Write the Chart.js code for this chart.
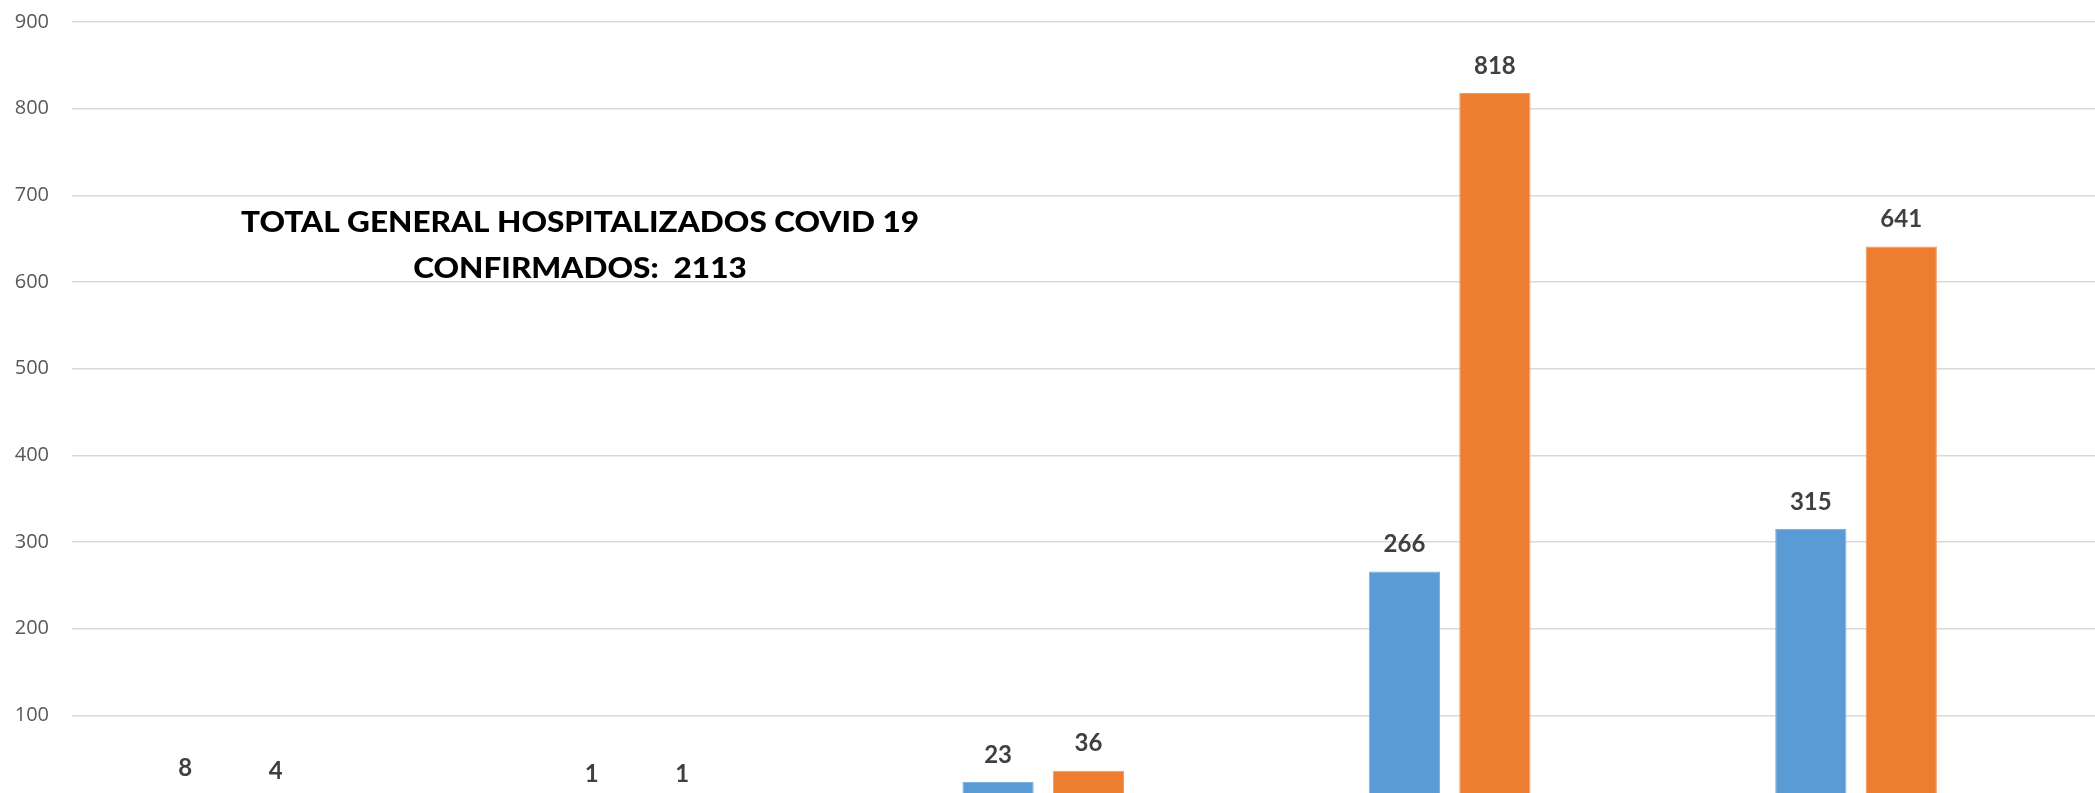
<!DOCTYPE html>
<html lang="es">
<head>
<meta charset="utf-8">
<title>Hospitalizados COVID 19</title>
<script src="https://cdn.jsdelivr.net/npm/chart.js@4.4.1/dist/chart.umd.min.js"></script>
<style>
  html, body { margin: 0; padding: 0; background: #fff; overflow: hidden; }
  #wrap { width: 2095px; height: 793px; overflow: hidden; }
  canvas { display: block; }
</style>
</head>
<body>
<div id="wrap"><canvas id="hospChart" width="2095" height="802"></canvas></div>
<script>
// one slot per pair of bars
const groups = [0, 1, 2, 3, 4];
const blueValues = [8, 1, 23, 266, 315];
const orangeValues = [4, 1, 36, 818, 641];
const yTicks = [0, 100, 200, 300, 400, 500, 600, 700, 800, 900];
const titleLines = ['TOTAL GENERAL HOSPITALIZADOS COVID 19', 'CONFIRMADOS:  2113'];

const toPoints = values => groups.map((g, i) => ({ x: g, y: values[i] }));

// number above every bar
const valueLabels = {
    id: 'valueLabels',
    afterDatasetsDraw(chart) {
        const ctx = chart.ctx;
        ctx.save();
        ctx.font = 'bold 24px Lato';
        ctx.fillStyle = '#404040';
        ctx.textAlign = 'center';
        ctx.textBaseline = 'alphabetic';
        chart.data.datasets.forEach((ds, i) => {
            chart.getDatasetMeta(i).data.forEach((bar, j) => {
                ctx.fillText(String(ds.data[j].y), bar.x, bar.y - 19.5);
            });
        });
        ctx.restore();
    }
};

// two-line caption sitting inside the plot
const caption = {
    id: 'caption',
    afterDraw(chart) {
        const ctx = chart.ctx;
        ctx.save();
        ctx.font = '900 28px Lato';
        ctx.fillStyle = '#000';
        ctx.textAlign = 'center';
        ctx.textBaseline = 'alphabetic';
        const sx = 678 / ctx.measureText(titleLines[0]).width;
        ctx.translate(580, 0);
        ctx.scale(sx, 1);
        ctx.fillText(titleLines[0], 0, 231.5);
        ctx.fillText(titleLines[1], 0, 277.5);
        ctx.restore();
    }
};

const chart = new Chart(document.getElementById('hospChart'), {
    type: 'bar',
    data: {
        datasets: [
            {
                data: toPoints(blueValues),
                backgroundColor: '#5b9bd5',
                borderColor: '#7db0df',
                borderWidth: 1,
                borderSkipped: 'bottom'
            },
            {
                data: toPoints(orangeValues),
                backgroundColor: '#ed7d31',
                borderColor: '#f29a5c',
                borderWidth: 1,
                borderSkipped: 'bottom'
            }
        ]
    },
    options: {
        responsive: false,
        maintainAspectRatio: false,
        animation: false,
        categoryPercentage: 0.445,
        barPercentage: 0.788,
        layout: { padding: { top: 22, left: 0, right: 0, bottom: 0 } },
        plugins: {
            legend: { display: false },
            tooltip: { enabled: false },
            title: { display: false }
        },
        scales: {
            x: {
                type: 'linear',
                display: false,
                offset: false,
                min: -0.39,
                max: 4.588,
                ticks: { stepSize: 1, includeBounds: false },
                grid: { display: false }
            },
            y: {
                min: 0,
                max: 900,
                afterBuildTicks: scale => {
                    scale.ticks = yTicks.map(v => ({ value: v }));
                },
                afterFit: scale => {
                    // fixed axis width; no extra room above/below for the labels
                    scale.width = 72;
                    scale.paddingTop = 0;
                    scale.paddingBottom = 0;
                },
                border: { display: false },
                grid: {
                    color: '#d9d9d9',
                    lineWidth: 1.5,
                    drawTicks: false
                },
                ticks: {
                    padding: 23,
                    color: '#595959',
                    font: { family: 'Open Sans', size: 20 }
                }
            }
        }
    },
    plugins: [valueLabels, caption]
});
</script>
</body>
</html>
